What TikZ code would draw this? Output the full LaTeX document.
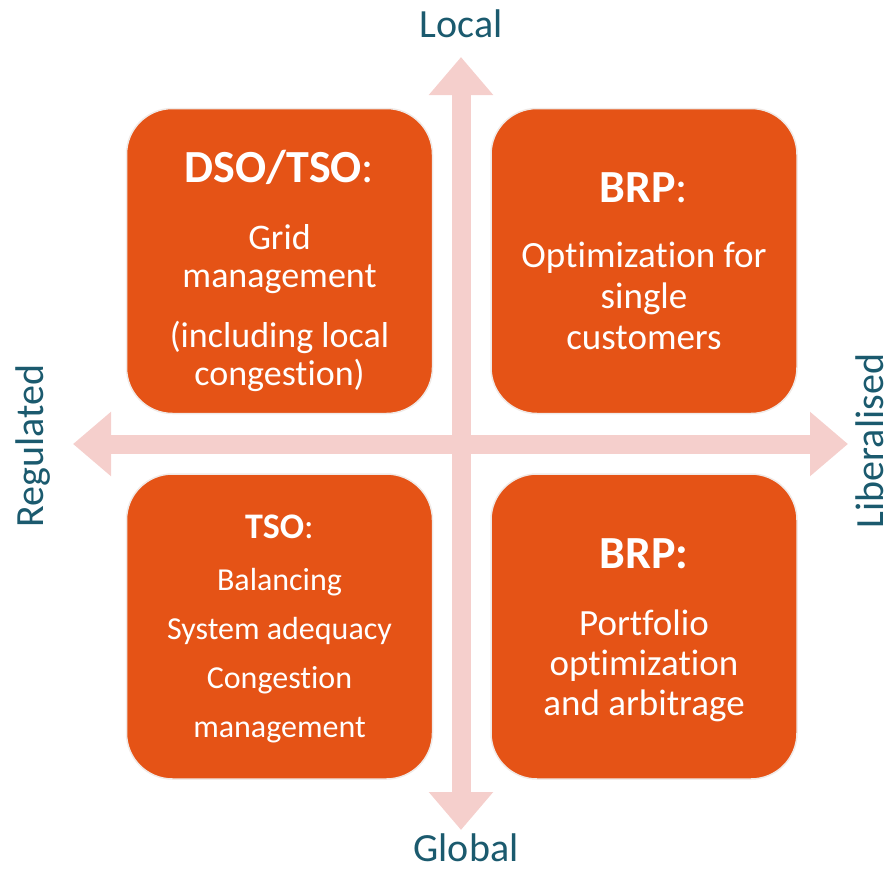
\documentclass[tikz,border=0pt]{standalone}
\usepackage{fontspec}
\setmainfont{Carlito}[Ligatures=NoCommon]
\usetikzlibrary{positioning, arrows.meta}

\definecolor{boxorange}{RGB}{229,83,22}
\definecolor{axispink}{RGB}{245,207,204}
\definecolor{axisteal}{RGB}{27,90,110}
\definecolor{boxrim}{RGB}{240,234,231}

\begin{document}
\begin{tikzpicture}[x=1pt, y=-1pt, node distance=57pt, >={Triangle[width=62pt, length=38pt]}]
  \tikzset{
    quad/.style={fill=boxorange, draw=boxrim, line width=1.5pt, rounded corners=46pt, minimum width=306pt, minimum height=305pt, inner sep=0pt},
    head/.style={text=white, anchor=base, inner sep=0pt, font=\fontsize{46}{54}\selectfont\bfseries},
    body/.style={text=white, anchor=base, align=center, inner sep=0pt, font=\fontsize{37}{41}\selectfont},
    axislabel/.style={text=axisteal, anchor=base, inner sep=0pt, font=\fontsize{40}{48}\selectfont},
    axis/.style={draw=axispink, line width=19pt, <->}
  }
  \useasboundingbox (0,0) rectangle (891,870);

  % the two axes
  \coordinate (top) at (461,57);
  \coordinate (bottom) at (461,830);
  \coordinate (left) at (73,444);
  \coordinate (right) at (848,444);
  \draw[axis] (left) -- (right);
  \draw[axis] (bottom) -- (top);

  \node[axislabel] (local) at (461,37) {Local};
  \node[axislabel] (global) at (466,861) {Global};
  \node[axislabel, rotate=90] (regulated) at (43,446) {Regulated};
  \node[axislabel, rotate=90] (liberalised) at (883,441) {Liberalised};

  % four quadrants
  \node[quad] (dso) at (279.5,261) {};
  \node[quad, right=of dso] (brplocal) {};
  \node[quad, below=59pt of dso] (tso) {};
  \node[quad, right=of tso] (brpglobal) {};

  % base anchor of the bodies sits on their last line
  \node[head] (dsohead) at ([yshift=-75pt]dso.north) {DSO/TSO\textmd{:}};
  \node[body, font=\fontsize{36}{38}\selectfont] (dsobody) at ([yshift=-278pt]dso.north) {Grid\\management\\[22pt](including local\\congestion)};

  \node[head] (brplocalhead) at ([yshift=-95pt]brplocal.north) {BRP\textmd{:}};
  \node[body] (brplocalbody) at ([yshift=-242pt]brplocal.north) {Optimization for\\single\\customers};

  \node[head, font=\fontsize{36}{42}\selectfont\bfseries] (tsohead) at ([yshift=-65pt]tso.north) {TSO\textmd{:}};
  \node[body, font=\fontsize{32}{49}\selectfont] (tsobody) at ([yshift=-264pt]tso.north) {Balancing\\System adequacy\\Congestion\\management};

  \node[head] (brpglobalhead) at ([yshift=-95pt]brpglobal.north) {BRP:};
  \node[body, font=\fontsize{37}{40}\selectfont] (brpglobalbody) at ([yshift=-242pt]brpglobal.north) {Portfolio\\optimization\\and arbitrage};
\end{tikzpicture}
\end{document}
